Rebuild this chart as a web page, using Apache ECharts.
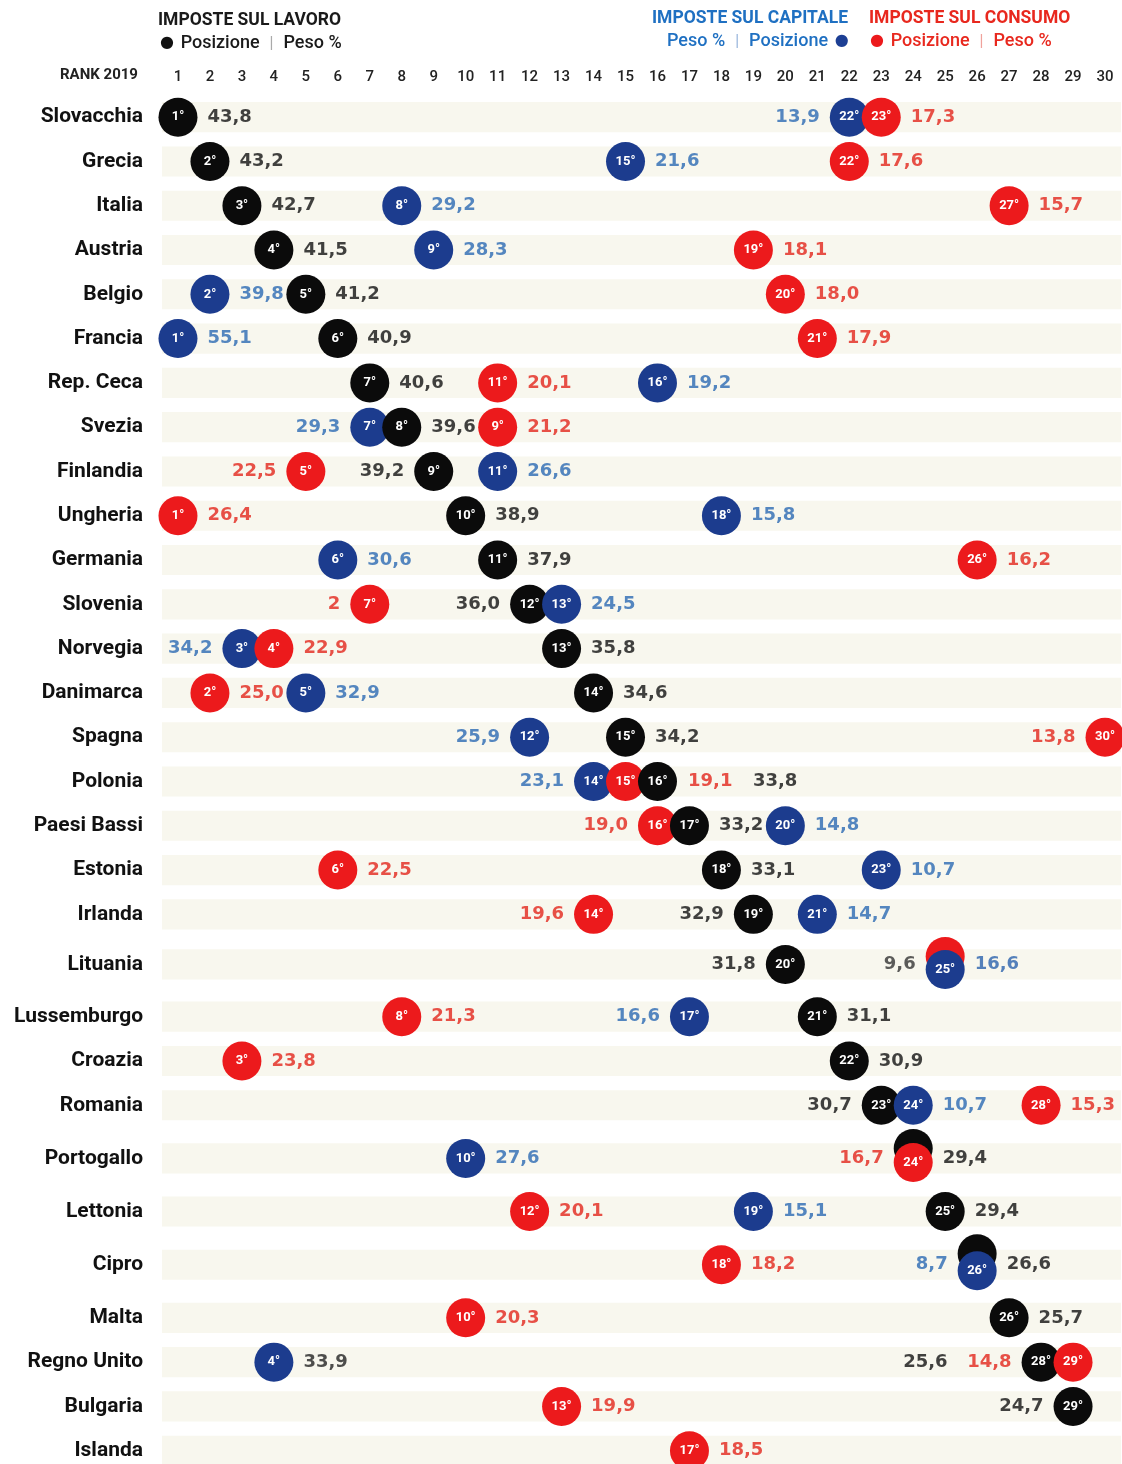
<!DOCTYPE html>
<html>
<head>
<meta charset="utf-8">
<script src="https://cdn.jsdelivr.net/npm/echarts@6.0.0/dist/echarts.min.js"></script>
<style>
html, body { margin: 0; background: #fff; }
#chart { width: 1122px; height: 1464px; }
</style>
</head>
<body>
<div id="chart"></div>
<script>
// dati: rank 2019 e peso % delle tre imposte
var countries = ['Slovacchia', 'Grecia', 'Italia', 'Austria', 'Belgio', 'Francia', 'Rep. Ceca', 'Svezia',
    'Finlandia', 'Ungheria', 'Germania', 'Slovenia', 'Norvegia', 'Danimarca', 'Spagna', 'Polonia',
    'Paesi Bassi', 'Estonia', 'Irlanda', 'Lituania', 'Lussemburgo', 'Croazia', 'Romania', 'Portogallo',
    'Lettonia', 'Cipro', 'Malta', 'Regno Unito', 'Bulgaria', 'Islanda'];
var rankTicks = [1, 2, 3, 4, 5, 6, 7, 8, 9, 10, 11, 12, 13, 14, 15, 16, 17, 18, 19, 20, 21, 22, 23, 24, 25, 26, 27, 28, 29, 30];

var laborRank = [1, 2, 3, 4, 5, 6, 7, 8, 9, 10, 11, 12, 13, 14, 15, 16, 17, 18, 19, 20, 21, 22, 23, 24, 25, 26, 26, 28, 29, null];
var laborPeso = [43.8, 43.2, 42.7, 41.5, 41.2, 40.9, 40.6, 39.6, 39.2, 38.9, 37.9, 36.0, 35.8, 34.6, 34.2, 33.8,
    33.2, 33.1, 32.9, 31.8, 31.1, 30.9, 30.7, 29.4, 29.4, 26.6, 25.7, 25.6, 24.7, null];

var capitalRank = [22, 15, 8, 9, 2, 1, 16, 7, 11, 18, 6, 13, 3, 5, 12, 14, 20, 23, 21, 25, 17, null, 24, 10, 19, 26, null, 4, null, null];
var capitalPeso = [13.9, 21.6, 29.2, 28.3, 39.8, 55.1, 19.2, 29.3, 26.6, 15.8, 30.6, 24.5, 34.2, 32.9, 25.9, 23.1,
    14.8, 10.7, 14.7, 9.6, 16.6, null, 10.7, 27.6, 15.1, 8.7, null, 33.9, null, null];

var consumoRank = [23, 22, 27, 19, 20, 21, 11, 9, 5, 1, 26, 7, 4, 2, 30, 15, 16, 6, 14, 25, 8, 3, 28, 24, 12, 18, 10, 29, 13, 17];
// Slovenia: nel grafico si legge solo "2"
var consumoPeso = [17.3, 17.6, 15.7, 18.1, 18.0, 17.9, 20.1, 21.2, 22.5, 26.4, 16.2, null, 22.9, 25.0, 13.8, 19.1,
    19.0, 22.5, 19.6, 16.6, 21.3, 23.8, 15.3, 16.7, 20.1, 18.2, 20.3, 14.8, 19.9, 18.5];

// impaginazione: lato dell'etichetta (r/l), distanza fra le righe, ritocchi
var laborSide   = 'rrrrrrrrlrrlrrrrrrllrrlrrrrllr';
var capitalSide = 'lrrrrrrlrrrrlrllrrrllrrrrlrrrr';
var consumoSide = 'rrrrrrrrlrrlrrlrlrlrrrrlrrrlrr';
var rowGap = [0, 1, 1, 1, 1, 1, 1, 1, 1, 1, 1, 1, 1, 1, 1, 1, 1, 1, 1, 1.13, 1.18, 1, 1, 1.2, 1.2, 1.2, 1.2, 1, 1, 1];
var tweaks = {
    'Svezia|con': {dx: 2},
    'Malta|lab': {dx: 1},
    'Lituania|con': {dy: -8, color: '#2a62ad', hide: true},
    'Lituania|cap': {dy: 5, color: '#333'},
    'Portogallo|lab': {dy: -10, hide: true},
    'Portogallo|con': {dy: 4},
    'Cipro|lab': {dy: -11, hide: true},
    'Cipro|cap': {dy: 6},
    'Polonia|con': {lx: 33},
    'Polonia|lab': {lx: 66},
    'Regno Unito|lab': {lx: -64},
    'Regno Unito|con': {lx: -32},
    'Regno Unito|cap': {color: '#222'},
    'Slovenia|con': {text: '2'}
};

var rowY = [];
var acc = 0;
for (var i = 0; i < rowGap.length; i++) {
    acc += rowGap[i];
    rowY.push(acc);
}

var FONT = 'Roboto, "Open Sans", sans-serif';
var NUMFONT = '"DejaVu Sans", Roboto, sans-serif';
var groups = [
    {key: 'lab', rank: laborRank, peso: laborPeso, side: laborSide, fill: '#0b0b0b', text: '#111'},
    {key: 'cap', rank: capitalRank, peso: capitalPeso, side: capitalSide, fill: '#1c3c8e', text: '#2a69b3'},
    {key: 'con', rank: consumoRank, peso: consumoPeso, side: consumoSide, fill: '#ec1a1c', text: '#e2261c'}
];

var points = [];
groups.forEach(function (g) {
    countries.forEach(function (c, i) {
        if (g.rank[i] == null) return;
        var t = tweaks[c + '|' + g.key] || {};
        points.push({
            x: g.rank[i] + (t.dx || 0),
            y: rowY[i],
            dy: t.dy || 0,
            rank: t.hide ? '' : g.rank[i] + '°',
            label: t.text || (g.peso[i] == null ? '' : g.peso[i].toFixed(1).replace('.', ',')),
            side: g.side[i] === 'l' ? 'left' : 'right',
            lx: t.lx || 0,
            fill: g.fill,
            color: t.color || g.text
        });
    });
});
// i cerchi a destra (e quelli più in basso) stanno sopra
points.sort(function (a, b) { return a.y - b.y || a.x - b.x || a.dy - b.dy; });

var circleData = points.map(function (p) {
    return {
        value: [p.x, p.y],
        symbolOffset: [0, p.dy],
        itemStyle: {color: p.fill, opacity: 1},
        label: {formatter: p.rank}
    };
});
var valueData = points.map(function (p) {
    return {
        value: [p.x, p.y],
        label: {position: p.side, offset: [p.lx, 0], color: p.color, formatter: p.label}
    };
});

var bands = rowY.map(function (y) {
    return [{yAxis: y - 0.34}, {yAxis: y + 0.34}];
});

// legenda in alto: testo a pezzi con pallino e separatore
function legendRich(txt, dot, sep) {
    return {
        d: {fill: dot, fontSize: 16, fontFamily: NUMFONT},
        t: {fill: txt, fontSize: 18, fontWeight: 500, fontFamily: FONT},
        s: {fill: sep, fontSize: 15, padding: [0, 10]}
    };
}

var chart = echarts.init(document.getElementById('chart'));
chart.setOption({
    backgroundColor: '#fff',
    animation: false,
    grid: {left: 162, right: 1, top: 95, bottom: 0},
    xAxis: {
        type: 'value', position: 'top', min: 0.5, max: 30.5,
        axisLine: {show: false}, axisTick: {show: false}, splitLine: {show: false},
        axisLabel: {customValues: rankTicks, margin: 10, color: '#222', fontSize: 15, fontWeight: 500, fontFamily: FONT}
    },
    yAxis: {
        type: 'value', inverse: true, min: -0.5, max: rowY[rowY.length - 1] + 0.3,
        axisLine: {show: false}, axisTick: {show: false}, splitLine: {show: false},
        axisLabel: {
            customValues: rowY, margin: 19, color: '#111', fontSize: 21, fontWeight: 'bold', fontFamily: FONT,
            formatter: function (v) {
                var best = 0;
                for (var k = 0; k < rowY.length; k++) {
                    if (Math.abs(rowY[k] - v) < Math.abs(rowY[best] - v)) best = k;
                }
                return countries[best];
            }
        }
    },
    graphic: [
        {type: 'text', left: 158, top: 12, style: {text: 'IMPOSTE SUL LAVORO', fill: '#1a1a1a', font: 'bold 17.5px ' + FONT}},
        {type: 'text', left: 160, top: 34, style: {
            text: '{d|●}  {t|Posizione}{s||}{t|Peso %}',
            rich: legendRich('#1a1a1a', '#111', '#aaa')
        }},
        {type: 'text', left: 652, top: 10, style: {text: 'IMPOSTE SUL CAPITALE', fill: '#1f70c2', font: 'bold 17.5px ' + FONT}},
        {type: 'text', left: 869, top: 10, style: {text: 'IMPOSTE SUL CONSUMO', fill: '#e8281e', font: 'bold 17.5px ' + FONT}},
        {type: 'text', left: 667, top: 32, style: {
            text: '{t|Peso %}{s||}{t|Posizione}  {d|●}',
            rich: legendRich('#1f70c2', '#1d3f94', '#9bb7dd')
        }},
        {type: 'text', left: 870, top: 32, style: {
            text: '{d|●}  {t|Posizione}{s||}{t|Peso %}',
            rich: legendRich('#e8281e', '#ec1a1c', '#f0a29c')
        }},
        {type: 'text', left: 60, top: 68, style: {text: 'RANK 2019', fill: '#222', font: 'bold 15px ' + FONT}}
    ],
    series: [
        {
            name: 'fasce', type: 'scatter', data: [], z: 1, silent: true,
            markArea: {silent: true, itemStyle: {color: '#f8f7ee'}, data: bands}
        },
        {
            name: 'cerchi', type: 'scatter', z: 2, symbol: 'circle', symbolSize: 39,
            label: {show: true, position: 'inside', color: '#fff', fontSize: 13, fontWeight: 'bold', fontFamily: FONT},
            data: circleData
        },
        {
            name: 'valori', type: 'scatter', z: 3, symbol: 'circle', symbolSize: 39, silent: true,
            itemStyle: {color: 'rgba(0,0,0,0)'},
            label: {show: true, distance: 10, fontSize: 18, fontWeight: 'bold', fontFamily: NUMFONT},
            data: valueData
        }
    ]
});
</script>
</body>
</html>
